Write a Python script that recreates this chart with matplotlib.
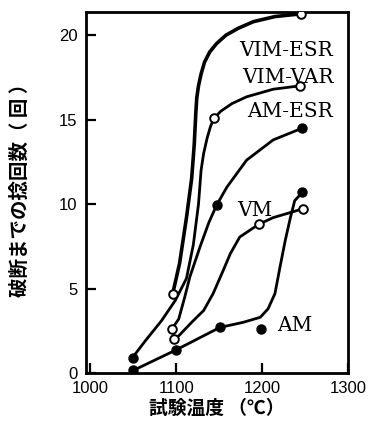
import matplotlib
matplotlib.use("Agg")
from matplotlib import pyplot as plt

# marker points
am_x = [1050, 1100, 1151, 1199, 1247]
am_y = [0.15, 1.37, 2.7, 2.6, 10.7]
amesr_x = [1050, 1147, 1247]
amesr_y = [0.9, 9.93, 14.5]
vm_x = [1097, 1196, 1248]
vm_y = [2.0, 8.8, 9.73]
vimvar_x = [1095, 1144, 1244]
vimvar_y = [2.6, 15.07, 17.0]
vimesr_x = [1096, 1245]
vimesr_y = [4.7, 21.26]

# hand drawn curves
am_cx = [1050, 1100, 1151, 1178, 1198, 1207, 1215, 1221, 1227, 1233, 1238, 1247]
am_cy = [0.15, 1.37, 2.7, 3.0, 3.3, 3.8, 4.7, 6.3, 7.85, 9.2, 10.2, 10.7]
amesr_cx = [1095, 1103, 1110, 1116, 1128, 1138, 1147, 1159, 1182, 1213, 1247]
amesr_cy = [2.6, 3.2, 4.5, 5.7, 7.5, 8.9, 9.93, 11.0, 12.6, 13.8, 14.5]
vm_cx = [1097, 1103, 1118, 1132, 1143, 1155, 1163, 1174, 1196, 1213, 1233, 1248]
vm_cy = [2.0, 2.2, 3.0, 3.7, 4.7, 6.1, 7.06, 8.05, 8.8, 9.2, 9.5, 9.73]
vimvar_cx = [1049, 1064, 1083, 1099, 1112, 1120, 1126, 1129, 1132, 1136, 1140, 1144,
             1152, 1165, 1182, 1213, 1244]
vimvar_cy = [0.9, 1.9, 3.1, 4.3, 5.6, 7.6, 10.0, 12.0, 13.0, 13.9, 14.6, 15.07,
             15.5, 15.95, 16.35, 16.8, 17.0]
vimesr_cx = [1096, 1104, 1112, 1118, 1121, 1123, 1124, 1126, 1129, 1133, 1139, 1147,
             1158, 1172, 1190, 1215, 1245]
vimesr_cy = [4.7, 6.5, 9.2, 11.5, 13.5, 15.5, 16.3, 17.0, 17.7, 18.4, 19.0, 19.5,
             20.0, 20.4, 20.8, 21.1, 21.26]

labels = ["VIM-ESR", "VIM-VAR", "AM-ESR", "VM", "AM"]
label_x = [1283, 1283, 1283, 1171, 1218]
label_y = [19.1, 17.5, 15.5, 9.6, 2.8]
label_ha = ["right", "right", "right", "left", "left"]


def main():
    fig = plt.figure(figsize=(3.7, 4.26), dpi=100)
    ax = fig.add_axes([0.2324, 0.1244, 0.708, 0.8474])

    kw = dict(color="black", solid_capstyle="round", solid_joinstyle="round", zorder=2)
    ax.plot(vimesr_cx, vimesr_cy, lw=2.6, **kw)
    ax.plot(vimvar_cx, vimvar_cy, lw=2.0, **kw)
    ax.plot(amesr_cx, amesr_cy, lw=2.0, **kw)
    ax.plot(vm_cx, vm_cy, lw=2.0, **kw)
    ax.plot(am_cx, am_cy, lw=2.0, **kw)

    filled = dict(ls="none", marker="o", ms=6.5, mfc="black", mec="black", zorder=4)
    hollow = dict(ls="none", marker="o", ms=6.2, mfc="white", mec="black", mew=1.4, zorder=4)
    ax.plot(am_x, am_y, **filled)
    ax.plot(amesr_x, amesr_y, **filled)
    ax.plot(vm_x, vm_y, **hollow)
    ax.plot(vimvar_x, vimvar_y, **hollow)
    ax.plot(vimesr_x, vimesr_y, **hollow)

    for t, x, y, ha in zip(labels, label_x, label_y, label_ha):
        ax.text(x, y, t, ha=ha, va="center", fontsize=14.5, family="DejaVu Serif")

    ax.set_xlim(995, 1300)
    ax.set_ylim(0, 21.37)
    ax.set_xticks([1000, 1100, 1200, 1300])
    ax.set_yticks([0, 5, 10, 15, 20])
    ax.tick_params(direction="in", length=7, width=1.6, pad=6,
                   labelsize=12, top=False, right=False)
    for lab in ax.get_xticklabels() + ax.get_yticklabels():
        lab.set_family("Liberation Sans")
    for s in ax.spines.values():
        s.set_linewidth(2.0)

    ax.set_xlabel("試験温度 （℃）", fontsize=13.5, fontweight="bold",
                  family=["Noto Sans CJK JP", "DejaVu Sans"], labelpad=2)
    ax.set_ylabel("破断までの捻回数（ 回 ）", fontsize=14, fontweight="bold",
                  family=["Noto Sans CJK JP", "DejaVu Sans"], labelpad=8)
    ax.yaxis.set_label_coords(-0.215, 0.52)

    fig.savefig("out.png", dpi=100)


if __name__ == "__main__":
    main()
